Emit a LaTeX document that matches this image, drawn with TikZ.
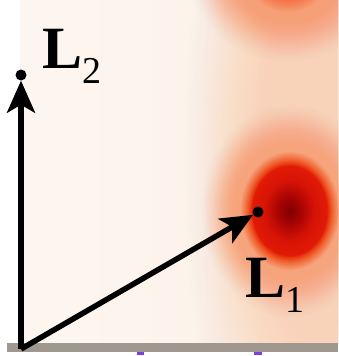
\documentclass[tikz,border=0pt]{standalone}
\usepackage{fontspec}
\setmainfont{Liberation Serif}
\usetikzlibrary{arrows.meta}
\definecolor{bgL}{HTML}{FDF6F0}
\definecolor{bgR}{HTML}{FCF0E7}
\definecolor{bandc}{HTML}{F9D2BA}
\definecolor{peach}{HTML}{F6A47C}
\definecolor{peachT}{HTML}{F6A078}
\definecolor{orng}{HTML}{F05A28}
\definecolor{orngT}{HTML}{F45C2A}
\definecolor{orngT2}{HTML}{F04416}
\definecolor{redo}{HTML}{E83010}
\definecolor{redc}{HTML}{E01A06}
\definecolor{rede}{HTML}{D81406}
\definecolor{redd}{HTML}{A80404}
\definecolor{darkc}{HTML}{800000}
\definecolor{barc}{HTML}{A0988F}
\definecolor{tickc}{HTML}{7A40E0}
\newcommand\haloring[6]{% cx cy rx-out rx-in ratio colour
  \foreach \k in {1,...,40}{
    \pgfmathsetmacro\rr{#3-(#3-#4)*(\k-1)/40}
    \pgfmathsetmacro\ry{\rr*#5}
    \pgfmathsetmacro\tt{\k/40}
    \pgfmathsetmacro\tp{(\k-1)/40}
    \pgfmathsetmacro\al{\tt*\tt*(3-2*\tt)}
    \pgfmathsetmacro\alp{\tp*\tp*(3-2*\tp)}
    \pgfmathsetmacro\op{(\al-\alp)/(1-\alp)}
    \fill[#6, fill opacity=\op] (#1,#2) ellipse [x radius=\rr, y radius=\ry];
  }}
\newcommand\mixring[7]{% cx cy rx-a rx-b ratio colA colB
  \foreach \k in {0,...,11}{
    \pgfmathsetmacro\rr{#3-(#3-#4)*\k/12}
    \pgfmathsetmacro\ry{\rr*#5}
    \pgfmathtruncatemacro\p{100-100*\k/12}
    \fill[#6!\p!#7] (#1,#2) ellipse [x radius=\rr, y radius=\ry];
  }}
\tikzset{
  vec/.style={line width=5.5pt, -{Stealth[length=32pt, width=28pt, inset=8pt]}},
  tipdot/.style={circle, fill=black, inner sep=0pt, minimum size=11pt},
  lab/.style={inner sep=0pt, anchor=base west, font=\fontsize{60}{60}\selectfont\bfseries}
}
\begin{document}
\begin{tikzpicture}[x=1pt,y=-1pt]
\useasboundingbox (0,0) rectangle (338,356);
\fill[white] (0,0) rectangle (338,356);
\shade[left color=bgL, right color=bgR] (20,0) rectangle (338,343);
\begin{scope}
  \clip (20,0) rectangle (338,343);
  % vertical peach band
  \haloring{320}{160}{140}{40}{3.0}{bandc}
  % top blob
  \haloring{288}{-22}{100}{42}{0.85}{peachT}
  \mixring{288}{-22}{42}{20}{0.85}{peachT}{orngT}
  \mixring{288}{-22}{20}{0}{0.85}{orngT}{orngT2}
  % lower blob
  \haloring{290}{211}{90}{50}{1.2}{peach}
  \mixring{290}{211}{50}{42}{1.2}{peach}{orng}
  \mixring{290}{211}{42}{38.5}{1.2}{orng}{redo}
  \mixring{290}{211}{38.5}{37}{1.2}{redo}{redc}
  \mixring{290}{211}{37}{26}{1.2}{redc}{rede}
  \mixring{290}{211}{26}{12}{1.2}{rede}{redd}
  \mixring{290}{211}{12}{0}{1.2}{redd}{darkc}
\end{scope}
% bottom bar and ticks
\fill[barc] (7,343) rectangle (338,352);
\fill[tickc] (137,352) rectangle (144,355);
\fill[tickc] (254,352) rectangle (262,355);
% vectors
\coordinate (o) at (21,349);
\node[tipdot] (p2) at (21,75) {};
\node[tipdot] (p1) at (258,212) {};
\draw[vec] (o) -- (p2);
\draw[vec] (o) -- (p1);
\node[lab] (l2) at (42,68) {L\raisebox{-15pt}{\fontsize{38}{38}\selectfont\mdseries 2}};
\node[lab] (l1) at (245,297) {L\raisebox{-15pt}{\fontsize{38}{38}\selectfont\mdseries 1}};
\end{tikzpicture}
\end{document}
